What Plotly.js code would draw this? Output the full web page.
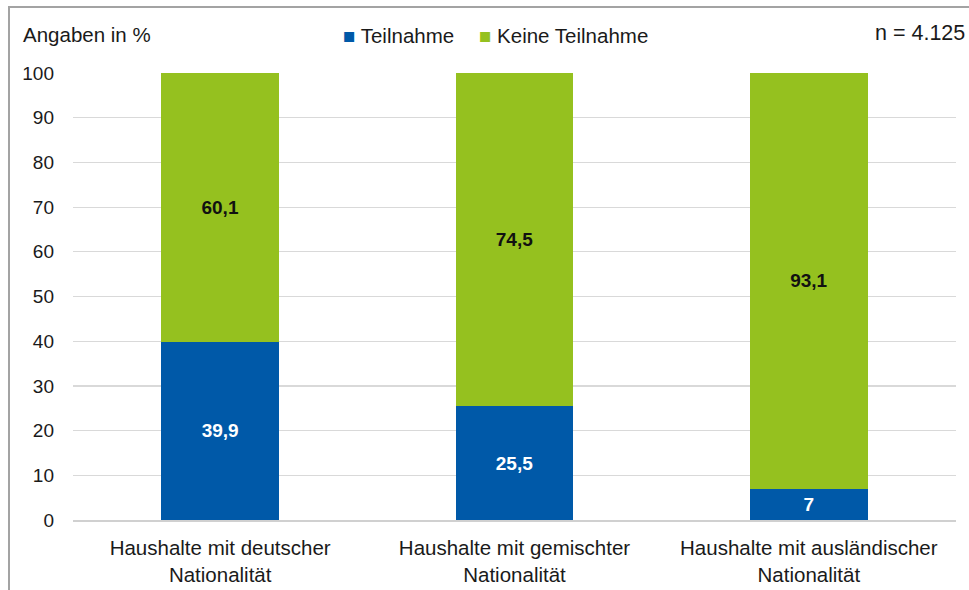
<!DOCTYPE html>
<html>
<head>
<meta charset="utf-8">
<script src="https://cdn.plot.ly/plotly-3.0.1.min.js"></script>
<style>
  html, body { margin: 0; padding: 0; background: #fff; }
  #wrap { position: relative; width: 969px; height: 590px; overflow: hidden; }
  #chart { width: 969px; height: 590px; }
  #frame { position: absolute; left: 8px; top: 6px; width: 2000px; height: 2000px;
           border-left: 2px solid #a3a3a3; border-top: 2px solid #a3a3a3; pointer-events: none; }
</style>
</head>
<body>
<div id="wrap">
  <div id="chart"></div>
  <div id="frame"></div>
</div>
<script>
const categories = [
  "Haushalte mit deutscher<br>Nationalität",
  "Haushalte mit gemischter<br>Nationalität",
  "Haushalte mit ausländischer<br>Nationalität"
];
const seriesNames = ["Teilnahme", "Keine Teilnahme"];
const teilnahme = [39.9, 25.5, 7];
const keineTeilnahme = [60.1, 74.5, 93.1];
const yTicks = [0, 10, 20, 30, 40, 50, 60, 70, 80, 90, 100];
const colors = ["#0059a8", "#95c11f"];
const yTitle = "Angaben in %";
const nLabel = "n = 4.125";

const fmt = v => String(v).replace(".", ",");
const FONT = "Liberation Sans, Arial, sans-serif";

const traces = [
  {
    type: "bar", name: seriesNames[0], x: categories, y: teilnahme,
    marker: { color: colors[0] },
    text: teilnahme.map(fmt), textposition: "inside", insidetextanchor: "middle",
    textfont: { family: FONT, size: 19, color: "#ffffff", weight: "bold" },
    hoverinfo: "skip"
  },
  {
    type: "bar", name: seriesNames[1], x: categories, y: keineTeilnahme,
    marker: { color: colors[1] },
    text: keineTeilnahme.map(fmt), textposition: "inside", insidetextanchor: "middle",
    textfont: { family: FONT, size: 19, color: "#111111", weight: "bold" },
    hoverinfo: "skip"
  }
];

const layout = {
  width: 969, height: 590,
  margin: { l: 73, r: 13, t: 73, b: 70 },
  barmode: "stack",
  bargap: 0.6,
  showlegend: false,
  paper_bgcolor: "#ffffff",
  plot_bgcolor: "#ffffff",
  separators: ",.",
  font: { family: FONT, size: 20.5, color: "#1a1a1a" },
  xaxis: {
    showline: true, linecolor: "#d0d0d0", linewidth: 1.5,
    ticks: "", tickfont: { size: 20.5, color: "#1a1a1a" }, ticklabelstandoff: 9,
    showgrid: false, fixedrange: true
  },
  yaxis: {
    range: [0, 100], tickvals: yTicks, ticktext: yTicks.map(String),
    showgrid: true, gridcolor: "#d9d9d9", gridwidth: 1.2,
    zeroline: false, showline: false, ticks: "", ticklabelstandoff: 18,
    tickfont: { size: 19, color: "#1a1a1a" }, fixedrange: true
  },
  annotations: [
    { xref: "paper", yref: "paper", x: -0.059, y: 1.0, yshift: 39, xanchor: "left", yanchor: "middle",
      text: yTitle, showarrow: false, font: { size: 20.5, color: "#1a1a1a" } },
    { xref: "paper", yref: "paper", x: 1.0125, y: 1.0, yshift: 40, xanchor: "right", yanchor: "middle",
      text: nLabel, showarrow: false, font: { size: 21.5, color: "#1a1a1a" } },
    { xref: "paper", yref: "paper", x: 0.303, y: 1.0, yshift: 38, xanchor: "left", yanchor: "middle",
      text: '<span style="color:' + colors[0] + '">■</span> ' + seriesNames[0], showarrow: false,
      font: { size: 20.5, color: "#1a1a1a" } },
    { xref: "paper", yref: "paper", x: 0.458, y: 1.0, yshift: 38, xanchor: "left", yanchor: "middle",
      text: '<span style="color:' + colors[1] + '">■</span> ' + seriesNames[1], showarrow: false,
      font: { size: 20.5, color: "#1a1a1a" } }
  ]
};

Plotly.newPlot("chart", traces, layout, { displayModeBar: false, staticPlot: true });
</script>
</body>
</html>
